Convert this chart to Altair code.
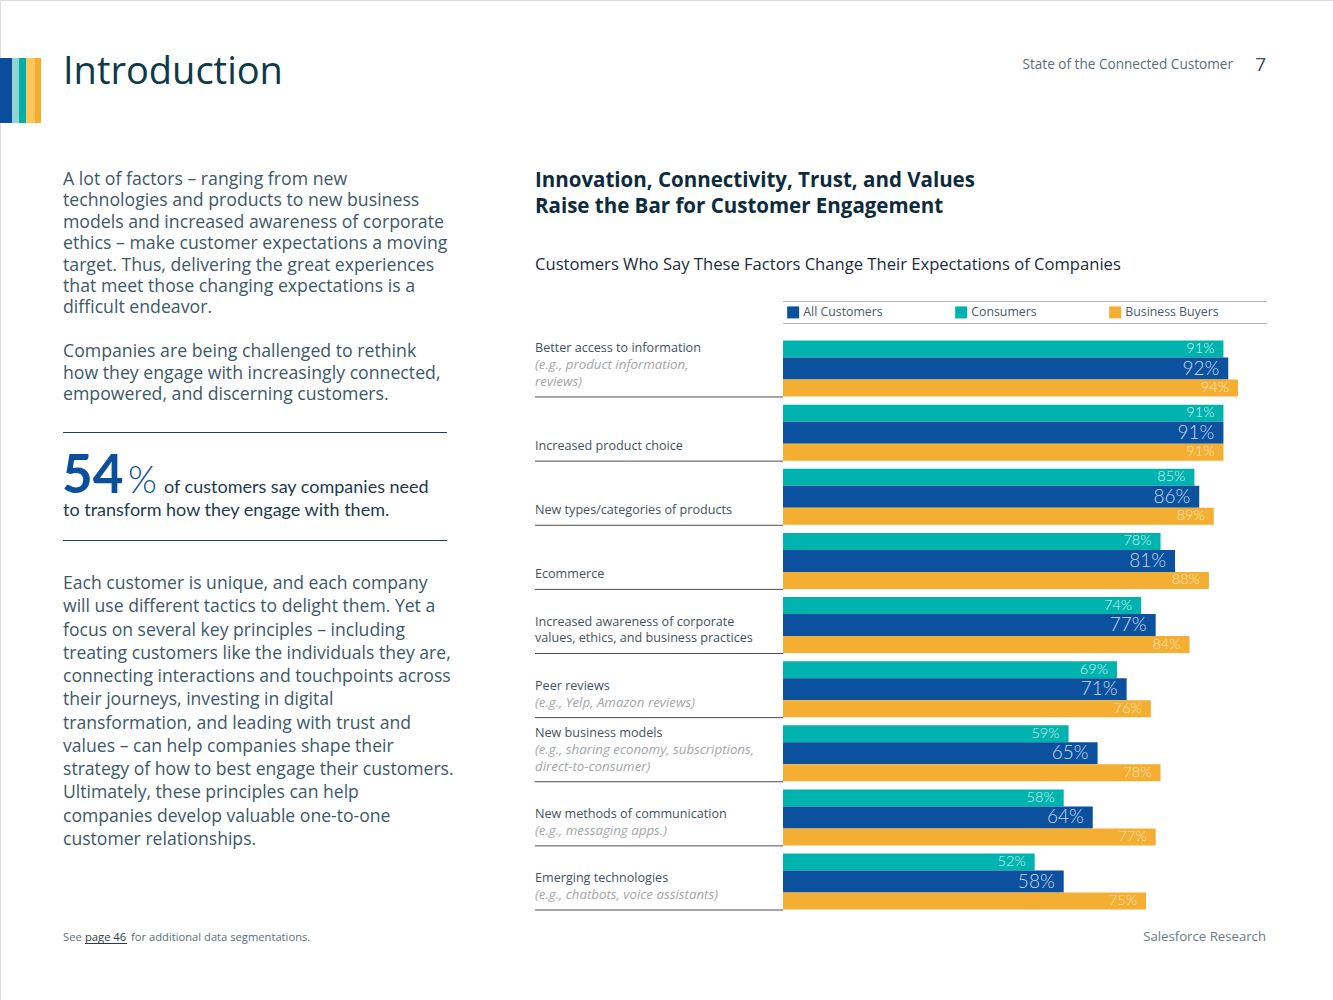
import altair as alt
import pandas as pd

# ---------------- data ----------------
categories = [
    "Better access to information",
    "Increased product choice",
    "New types/categories of products",
    "Ecommerce",
    "Increased awareness of corporate\nvalues, ethics, and business practices",
    "Peer reviews",
    "New business models",
    "New methods of communication",
    "Emerging technologies",
]
examples = [
    "(e.g., product information,\nreviews)",
    "",
    "",
    "",
    "",
    "(e.g., Yelp, Amazon reviews)",
    "(e.g., sharing economy, subscriptions,\ndirect-to-consumer)",
    "(e.g., messaging apps.)",
    "(e.g., chatbots, voice assistants)",
]
all_customers = [92, 91, 86, 81, 77, 71, 65, 64, 58]
consumers = [91, 91, 85, 78, 74, 69, 59, 58, 52]
business_buyers = [94, 91, 89, 88, 84, 76, 78, 77, 75]
series = ["All Customers", "Consumers", "Business Buyers"]
series_colors = ["#0b519e", "#00b3ae", "#f4ae32"]

para1 = ("A lot of factors \u2013 ranging from new\ntechnologies and products to new business\n"
         "models and increased awareness of corporate\nethics \u2013 make customer expectations a moving\n"
         "target. Thus, delivering the great experiences\nthat meet those changing expectations is a\n"
         "difficult endeavor.")
para2 = ("Companies are being challenged to rethink\nhow they engage with increasingly connected,\n"
         "empowered, and discerning customers.")
para3 = ("Each customer is unique, and each company\nwill use different tactics to delight them. Yet a\n"
         "focus on several key principles \u2013 including\ntreating customers like the individuals they are,\n"
         "connecting interactions and touchpoints across\ntheir journeys, investing in digital\n"
         "transformation, and leading with trust and\nvalues \u2013 can help companies shape their\n"
         "strategy of how to best engage their customers.\nUltimately, these principles can help\n"
         "companies develop valuable one-to-one\ncustomer relationships.")

# ---------------- tables ----------------
rows = []
for cat, a, c, b in zip(categories, all_customers, consumers, business_buyers):
    rows.append({"category": cat, "series": "All Customers", "value": a})
    rows.append({"category": cat, "series": "Consumers", "value": c})
    rows.append({"category": cat, "series": "Business Buyers", "value": b})
bars_df = pd.DataFrame(rows)
bars_df["label"] = bars_df["value"].astype(str) + "%"

lab_rows = []
for cat, ex in zip(categories, examples):
    n_ex = len(ex.split("\n")) if ex else 0
    n_main = len(cat.split("\n"))
    lab_rows.append({"category": cat, "example": ex, "n_ex": n_ex, "n_total": n_ex + n_main})
labels_df = pd.DataFrame(lab_rows)

one = pd.DataFrame({"a": [0]})

FONT = "Open Sans"
LATO = "Lato"
LH = 16.8
yscale = alt.Scale(type="point", domain=categories, range=[368.5, 881.5], padding=0)
xscale = alt.Scale(domain=[0, 100], range=[783, 1267])
cscale = alt.Scale(domain=series, range=series_colors)
legend = alt.Legend(orient="none", legendX=787, legendY=306, direction="horizontal", columns=3,
                    title=None, symbolType="square", symbolSize=144, symbolStrokeWidth=0,
                    columnPadding=72, labelFont=FONT, labelFontSize=12.3, labelColor="#4a5a66",
                    labelOffset=4, padding=0, offset=0)
Y = alt.Y("category:N", scale=yscale, axis=None, sort=categories)

layers = []

# bars + value labels
bar_specs = [
    ("Consumers", 17, -19.5, 14.5, "#d5f2f1"),
    ("All Customers", 22, 0, 19, "#c9d9ee"),
    ("Business Buyers", 17, 19.5, 14.5, "#fde7bd"),
]
for s, h, off, fs, tc in bar_specs:
    base = alt.Chart(bars_df).transform_filter(alt.datum.series == s)
    layers.append(base.mark_bar(height=h, yOffset=off).encode(
        x=alt.X("value:Q", scale=xscale, axis=None),
        y=Y,
        color=alt.Color("series:N", scale=cscale, legend=legend),
    ))
    layers.append(base.mark_text(align="right", baseline="middle", dx=-9, yOffset=off,
                                 fontSize=fs, font=LATO, fontWeight=300, color=tc).encode(
        x=alt.X("value:Q", scale=xscale, axis=None),
        y=Y,
        text="label:N",
    ))

# row separators
layers.append(alt.Chart(labels_df).mark_rule(color="#4d4d4d", strokeWidth=1, yOffset=28.5).encode(
    x=alt.value(535), x2=alt.value(783), y=Y,
))
# row labels: last line baseline sits 11px above the separator
for n in (1, 2, 3):
    layers.append(alt.Chart(labels_df).transform_filter(alt.datum.n_total == n).mark_text(
        align="left", baseline="alphabetic", yOffset=17.5 - (n - 1) * LH, lineBreak="\n",
        lineHeight=LH, fontSize=12.6, font=FONT, color="#3f5260").encode(
        x=alt.value(535), y=Y, text="category:N",
    ))
for n in (1, 2):
    layers.append(alt.Chart(labels_df).transform_filter(alt.datum.n_ex == n).mark_text(
        align="left", baseline="alphabetic", yOffset=17.5 - (n - 1) * LH, lineBreak="\n",
        lineHeight=LH, fontSize=13.3, font=FONT, fontStyle="italic", color="#a3a6a8").encode(
        x=alt.value(535), y=Y, text="example:N",
    ))


def txt(text, x, y, size, color, weight="normal", style="normal", align="left", lh=None, font=FONT):
    kw = dict(text=text, align=align, baseline="alphabetic", fontSize=size, color=color,
              font=font, fontWeight=weight, fontStyle=style)
    if lh is not None:
        kw["lineBreak"] = "\n"
        kw["lineHeight"] = lh
    return alt.Chart(one).mark_text(**kw).encode(x=alt.value(x), y=alt.value(y))


def rule(x1, x2, y, color, w=1):
    return alt.Chart(one).mark_rule(color=color, strokeWidth=w).encode(
        x=alt.value(x1), x2=alt.value(x2), y=alt.value(y))


def rect(x1, x2, y1, y2, color):
    return alt.Chart(one).mark_rect(color=color).encode(
        x=alt.value(x1), x2=alt.value(x2), y=alt.value(y1), y2=alt.value(y2))


# header stripes
for x1, x2, col in [(0, 12, "#0b4d9c"), (12, 19, "#90d5d1"), (19, 26, "#00aea8"),
                    (26, 35, "#fdc65c"), (35, 41, "#f4ad30")]:
    layers.append(rect(x1, x2, 58, 123, col))

layers.append(txt("Introduction", 63, 84, 38, "#0a3a4c"))
layers.append(txt("State of the Connected Customer", 1233, 68.5, 13.6, "#5a6e78", align="right"))
layers.append(txt("7", 1266, 71, 19, "#3a4a55", align="right"))

# left column
BODY = "#3d5868"
layers.append(txt(para1, 63, 185, 17.7, BODY, lh=21.4))
layers.append(txt(para2, 63, 357, 17.7, BODY, lh=21.5))
layers.append(rule(63, 447, 432.5, "#1f3f5f"))
layers.append(rule(63, 447, 540.5, "#1f3f5f"))
layers.append(txt("54", 62, 493, 53, "#0b4f9c", weight="bold", font=LATO))
layers.append(txt("%", 128, 493, 37, "#0b4f9c", weight=300, font=LATO))
layers.append(txt("of customers say companies need", 164, 493, 18, "#1c3a4e", font=LATO))
layers.append(txt("to transform how they engage with them.", 63, 516, 18, "#1c3a4e", font=LATO))
layers.append(txt(para3, 63, 589, 17.6, BODY, lh=23.27))

# chart headings
layers.append(txt("Innovation, Connectivity, Trust, and Values\nRaise the Bar for Customer Engagement",
                  535, 187, 20.5, "#0d2b3e", weight="bold", lh=26))
layers.append(txt("Customers Who Say These Factors Change Their Expectations of Companies",
                  535, 270, 16.6, "#1a2b3a"))
layers.append(rule(783, 1267, 301.5, "#b5b5b5"))
layers.append(rule(783, 1267, 323.5, "#b5b5b5"))

# footer
layers.append(txt("See", 63, 941, 11.2, "#5d6d77"))
layers.append(txt("page 46", 85, 941, 11.2, "#2a3a44"))
layers.append(rule(85, 127, 943.5, "#2a3a44"))
layers.append(txt("for additional data segmentations.", 131, 941, 11.2, "#5d6d77"))
layers.append(txt("Salesforce Research", 1266, 941, 13.2, "#6b7b85", align="right"))

chart = alt.layer(*layers).properties(
    width=1333, height=1000,
    autosize=alt.AutoSizeParams(type="none"),
    padding=0,
).configure_view(stroke=None).configure(background="white")

chart.save("out.html", embed_options={"renderer": "svg", "actions": False})
